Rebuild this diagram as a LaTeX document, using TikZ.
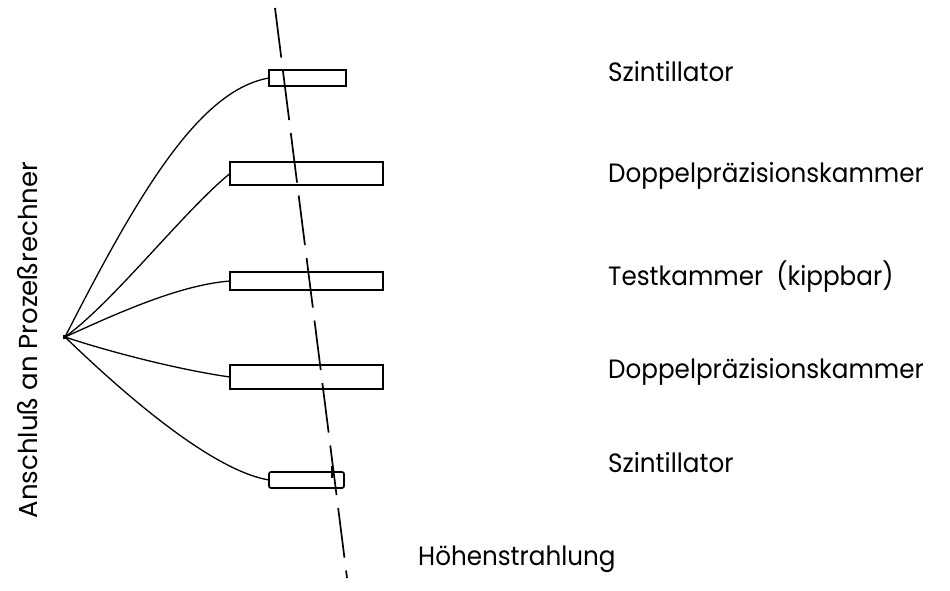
\documentclass[tikz,border=0pt]{standalone}
\usepackage{fontspec}
\setmainfont{Poppins}
\newfontfamily\narrowlabel[FakeStretch=0.93]{Poppins}
\begin{document}
\begin{tikzpicture}[x=1pt,y=-1pt,
  detector/.style={draw, line width=1.7pt, inner sep=0pt, outer sep=0pt},
  wire/.style={draw, line width=1.3pt},
  label/.style={anchor=base west, inner sep=0pt, font=\narrowlabel\fontsize{26.5}{30}\selectfont},
  ray/.style={draw, line width=1.7pt, dash pattern=on 50pt off 13pt}]
\useasboundingbox (0,0) rectangle (950,591);

% detector stack
\node[detector, minimum width=77pt,  minimum height=16pt] (s1) at (307.5,78) {};
\node[detector, minimum width=153pt, minimum height=23pt] (d1) at (306.5,173.5) {};
\node[detector, minimum width=153pt, minimum height=18pt] (t)  at (306.5,281) {};
\node[detector, minimum width=153pt, minimum height=24pt] (d2) at (306.5,377) {};
\node[detector, minimum width=75pt,  minimum height=16pt, rounded corners=2pt] (s2) at (306.5,480) {};

% common connection point
\node[draw, fill, inner sep=1.6pt, outer sep=0pt] (hub) at (65,337) {};

% cables to the detectors
\draw[wire] (hub) .. controls (140,190) and (200,90)  .. (s1.west);
\draw[wire] (hub) .. controls (115,300) and (185,210) .. (d1.west);
\draw[wire] (hub) .. controls (120,312) and (180,285) .. (t.west);
\draw[wire] (hub) .. controls (110,352) and (180,370) .. (d2.west);
\draw[wire] (hub) .. controls (120,390) and (210,470) .. (s2.west);

% cosmic ray track
\coordinate (raytop) at (275,8);
\coordinate (raybot) at (347,578);
\draw[ray] (raytop) -- (raybot);
\draw[line width=1.2pt] (332,466) -- (332,478) (326,472) -- (338,472);

% labels
\node[label] (ls1) at (608,82)  {Szintillator};
\node[label] (ld1) at (608,182) {Doppelpräzisionskammer};
\node[label] (lt)  at (608,285) {Testkammer\enspace(kippbar)};
\node[label] (ld2) at (608,378) {Doppelpräzisionskammer};
\node[label] (ls2) at (608,472) {Szintillator};
\node[label] (lh)  at (418,565) {Höhenstrahlung};
\node[anchor=base, inner sep=0pt, rotate=90, font=\fontsize{26}{30}\selectfont] (lp) at (37,340) {Anschluß an Prozeßrechner};
\end{tikzpicture}
\end{document}
